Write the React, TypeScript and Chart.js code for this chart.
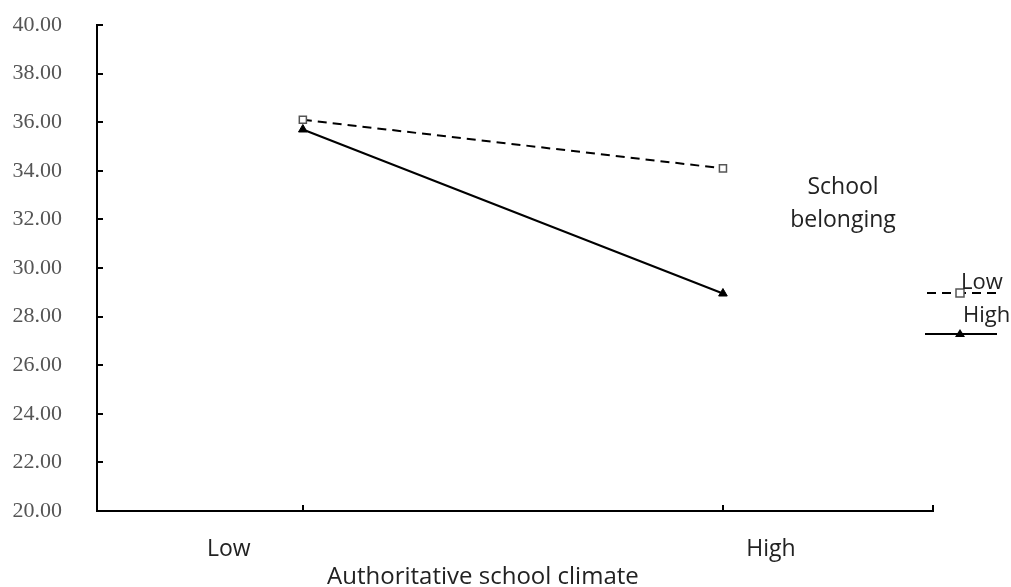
import { useEffect, useRef } from "react";
import { Chart, registerables } from "chart.js";

Chart.register(...registerables);

// ---- data ----
const climateLevels = ["Low", "High"];
const climateX = [1, 2];
const lowBelonging = [36.1, 34.1];
const highBelonging = [35.7, 28.95];
const belongingLevels = ["Low", "High"];
const yMin = 20;
const yMax = 40;
const yStep = 2;
const xAxisTitle = "Authoritative school climate";
const legendTitle = ["School", "belonging"];

const W = 1011;
const H = 587;

const sansFont = "'Open Sans', sans-serif";

const decorPlugin = {
  id: "decor",
  afterDraw(chart: any) {
    const ctx = chart.ctx as CanvasRenderingContext2D;
    const xs = chart.scales.x;
    const ys = chart.scales.y;
    const area = chart.chartArea;
    ctx.save();
    // inward ticks on y axis
    ctx.strokeStyle = "#000";
    ctx.lineWidth = 2;
    ys.ticks.forEach((t: any) => {
      if (t.value === yMin) return;
      const py = Math.round(ys.getPixelForValue(t.value));
      ctx.beginPath();
      ctx.moveTo(area.left, py);
      ctx.lineTo(area.left + 6, py);
      ctx.stroke();
    });
    // upward ticks on x axis at categories and end
    const xTickVals = [...climateX, xs.max];
    xTickVals.forEach((v) => {
      const px = Math.round(xs.getPixelForValue(v));
      ctx.beginPath();
      ctx.moveTo(px, area.bottom);
      ctx.lineTo(px, area.bottom - 6);
      ctx.stroke();
    });
    // category labels
    ctx.fillStyle = "#222";
    ctx.font = `23px ${sansFont}`;
    ctx.textAlign = "center";
    ctx.textBaseline = "middle";
    const lowPx = xs.getPixelForValue(climateX[0]);
    const highPx = xs.getPixelForValue(climateX[1]);
    ctx.fillText(climateLevels[0], lowPx - 74, area.bottom + 38);
    ctx.fillText(climateLevels[1], highPx + 48, area.bottom + 38);
    ctx.font = `24px ${sansFont}`;
    ctx.fillText(xAxisTitle, (lowPx + highPx) / 2 - 30, area.bottom + 66);
    // legend title
    ctx.font = `23px ${sansFont}`;
    ctx.fillText(legendTitle[0], area.right - 90, 187);
    ctx.fillText(legendTitle[1], area.right - 90, 220);
    // legend entries
    const lx0 = area.right - 6;
    const lx1 = area.right + 64;
    const lmx = area.right + 27;
    const ly1 = 293;
    const ly2 = 334;
    ctx.strokeStyle = "#000";
    ctx.lineWidth = 2;
    ctx.setLineDash([9, 6]);
    ctx.beginPath();
    ctx.moveTo(lx0, ly1);
    ctx.lineTo(lx1, ly1);
    ctx.stroke();
    ctx.setLineDash([]);
    ctx.beginPath();
    ctx.moveTo(lx0 - 2, ly2);
    ctx.lineTo(lx1, ly2);
    ctx.stroke();
    // square marker
    ctx.fillStyle = "#fff";
    ctx.strokeStyle = "#555";
    ctx.lineWidth = 1.5;
    ctx.fillRect(lmx - 4, ly1 - 4, 8, 8);
    ctx.strokeRect(lmx - 4, ly1 - 4, 8, 8);
    // triangle marker
    ctx.fillStyle = "#000";
    ctx.beginPath();
    ctx.moveTo(lmx, ly2 - 5);
    ctx.lineTo(lmx + 5, ly2 + 3);
    ctx.lineTo(lmx - 5, ly2 + 3);
    ctx.closePath();
    ctx.fill();
    // legend labels
    ctx.fillStyle = "#222";
    ctx.font = `22px ${sansFont}`;
    ctx.textAlign = "left";
    ctx.fillText(belongingLevels[0], lmx + 1, 283);
    ctx.fillText(belongingLevels[1], lmx + 3, 316);
    ctx.restore();
  },
};

export default function App() {
  const ref = useRef<HTMLCanvasElement | null>(null);
  useEffect(() => {
    if (!ref.current) return;
    const chart = new Chart(ref.current, {
      type: "line",
      data: {
        datasets: [
          {
            label: belongingLevels[0],
            data: climateX.map((x, i) => ({ x, y: lowBelonging[i] })),
            borderColor: "#000",
            borderWidth: 2,
            borderDash: [9, 6],
            pointStyle: "rect",
            pointRadius: 5,
            pointBackgroundColor: "#fff",
            pointBorderColor: "#555",
            pointBorderWidth: 1.5,
            fill: false,
          },
          {
            label: belongingLevels[1],
            data: climateX.map((x, i) => ({ x, y: highBelonging[i] })),
            borderColor: "#000",
            borderWidth: 2,
            pointStyle: "triangle",
            pointRadius: 5,
            pointBackgroundColor: "#000",
            pointBorderColor: "#000",
            pointBorderWidth: 1,
            fill: false,
          },
        ],
      },
      options: {
        responsive: false,
        animation: false,
        devicePixelRatio: 1,
        layout: { padding: { top: 25, right: 78, left: 0, bottom: 0 } },
        plugins: { legend: { display: false }, tooltip: { enabled: false } },
        scales: {
          x: {
            type: "linear",
            min: 0.51,
            max: 2.5,
            grid: { display: false, drawTicks: false },
            border: { display: true, color: "#000", width: 2 },
            ticks: { display: false },
            afterFit(scale: any) {
              scale.height = H - 511;
              scale.paddingLeft = 0;
              scale.paddingRight = 0;
            },
          },
          y: {
            type: "linear",
            min: yMin,
            max: yMax,
            grid: { display: false, drawTicks: false },
            border: { display: true, color: "#000", width: 2 },
            ticks: {
              stepSize: yStep,
              padding: 35,
              color: "#555",
              font: { family: "'Liberation Serif', serif", size: 22 },
              callback: (v: any) => Number(v).toFixed(2),
            },
            afterFit(scale: any) {
              scale.width = 97;
              scale.paddingTop = 0;
              scale.paddingBottom = 0;
            },
          },
        },
      },
      plugins: [decorPlugin],
    });
    return () => chart.destroy();
  }, []);
  return (
    <div style={{ position: "absolute", left: 0, top: 0, width: W, height: H, background: "#fff" }}>
      <canvas ref={ref} width={W} height={H} style={{ width: W, height: H }} />
    </div>
  );
}
